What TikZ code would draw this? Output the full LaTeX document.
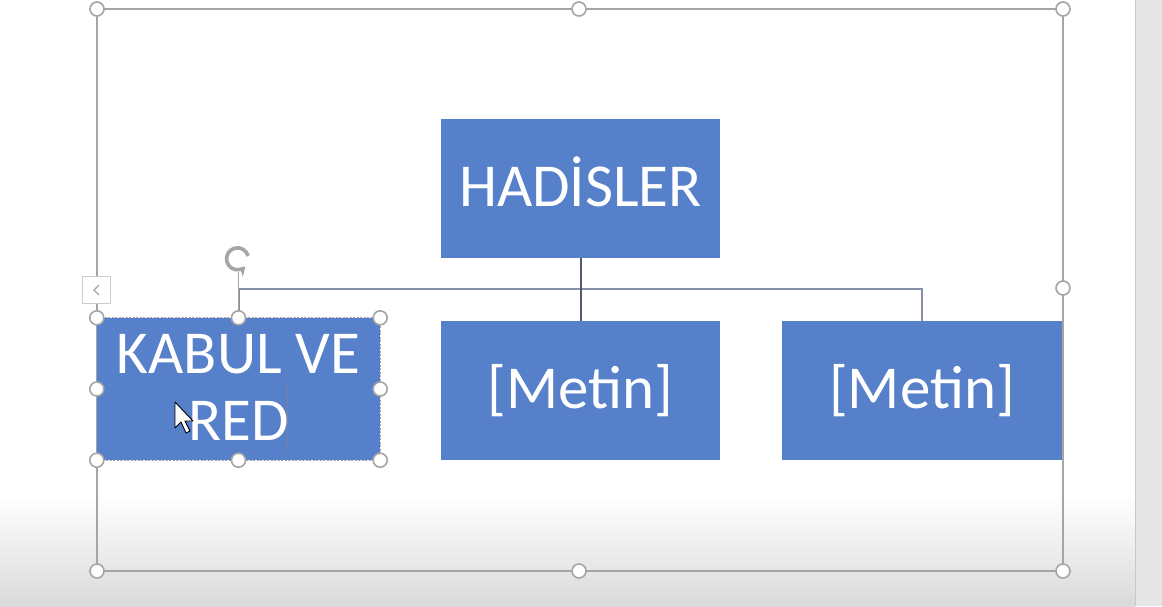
\documentclass[tikz,border=0pt]{standalone}
\usepackage{fontspec}
\setmainfont{Carlito}
\usetikzlibrary{arrows.meta}
\definecolor{boxblue}{RGB}{86,128,201}
\definecolor{framegray}{RGB}{165,165,165}
\definecolor{linegray}{RGB}{135,145,165}
\definecolor{stemdark}{RGB}{80,90,110}
\definecolor{stripgray}{RGB}{230,230,230}
\definecolor{bottomgray}{RGB}{218,218,218}
\tikzset{
  smbox/.style={fill=boxblue, draw=none, inner sep=0pt, text=white, align=center,
    font=\fontsize{61}{65}\selectfont},
  conn/.style={draw=linegray, line width=2pt},
  handle/.style={circle, fill=white, draw=framegray, line width=1.6pt, minimum size=14pt, inner sep=0pt},
  frameline/.style={draw=framegray, line width=1.4pt}
}
\begin{document}
\begin{tikzpicture}[x=1pt, y=-1pt]
\useasboundingbox (0,0) rectangle (1162,606);
% background
\fill[white] (0,0) rectangle (1162,606);
\shade[top color=white, bottom color=bottomgray] (0,495) rectangle (1135,606);
\fill[stripgray] (1135,0) rectangle (1162,606);
\draw[draw={rgb,255:red,200;green,200;blue,200}, line width=1pt] (1135,0) -- (1135,606);
% selection frame
\draw[frameline] (97,9) rectangle (1063,571);
% boxes
\node[smbox, minimum width=279pt, minimum height=139pt] (top) at (580.5,188.5) {\raisebox{7pt}[\height][\depth]{HAD\.{I}SLER}};
\node[smbox, minimum width=283pt, minimum height=142pt] (left) at (238.5,389) {\raisebox{-5pt}[\height][\depth]{\begin{tabular}{@{}c@{}}KABUL VE\\[2pt]RED\end{tabular}}};
\node[smbox, minimum width=279pt, minimum height=139pt] (mid) at (580.5,390.5) {[Metin]};
\node[smbox, minimum width=280pt, minimum height=139pt] (right) at (922,390.5) {[Metin]};
% connectors
\draw[conn] (left.north) -- ++(0,-29) coordinate (bus) -| (right.north);
\draw[conn, draw=stemdark] (top.south) -- (mid.north);
% selected box border
\draw[draw=framegray, line width=0.8pt, dash pattern=on 2pt off 1.5pt] (left.south west) rectangle (left.north east);
% rotation handle
\draw[draw=framegray, line width=1.6pt] (left.north) -- ++(0,-46) coordinate (rotbase);
\coordinate (rotc) at ([shift={(-1,-13)}]rotbase);
\draw[draw=framegray, line width=3.6pt, -{Stealth[length=9pt,width=11pt]}]
  ([shift={(-15:11)}]rotc) arc[start angle=-15, end angle=-315, radius=11];
% handles of selected box
\foreach \a in {north west, north, north east, west, east, south west, south, south east}
  \node[handle] at (left.\a) {};
% handles of frame
\foreach \p in {(97,9),(579,9),(1063,9),(97,288),(1063,288),(97,571),(579,571),(1063,571)}
  \node[handle] at \p {};
% side tab
\node[draw={rgb,255:red,205;green,205;blue,205}, fill=white, minimum width=28pt, minimum height=27pt, inner sep=0pt] (tab) at (96,290) {};
\draw[draw=framegray, line width=1.4pt] ([shift={(3,-5)}]tab.center) -- ([shift={(-2,0)}]tab.center) -- ([shift={(3,5)}]tab.center);
% text cursor
\draw[draw={rgb,255:red,120;green,130;blue,160}, line width=0.8pt] (287,381) -- (287,452);
% mouse pointer
\draw[fill=white, draw=black, line width=0.9pt, line join=round]
  (175,402) -- (175,428) -- (181,422) -- (186,433) -- (190,431) -- (185,421) -- (193,421) -- cycle;
\end{tikzpicture}
\end{document}
